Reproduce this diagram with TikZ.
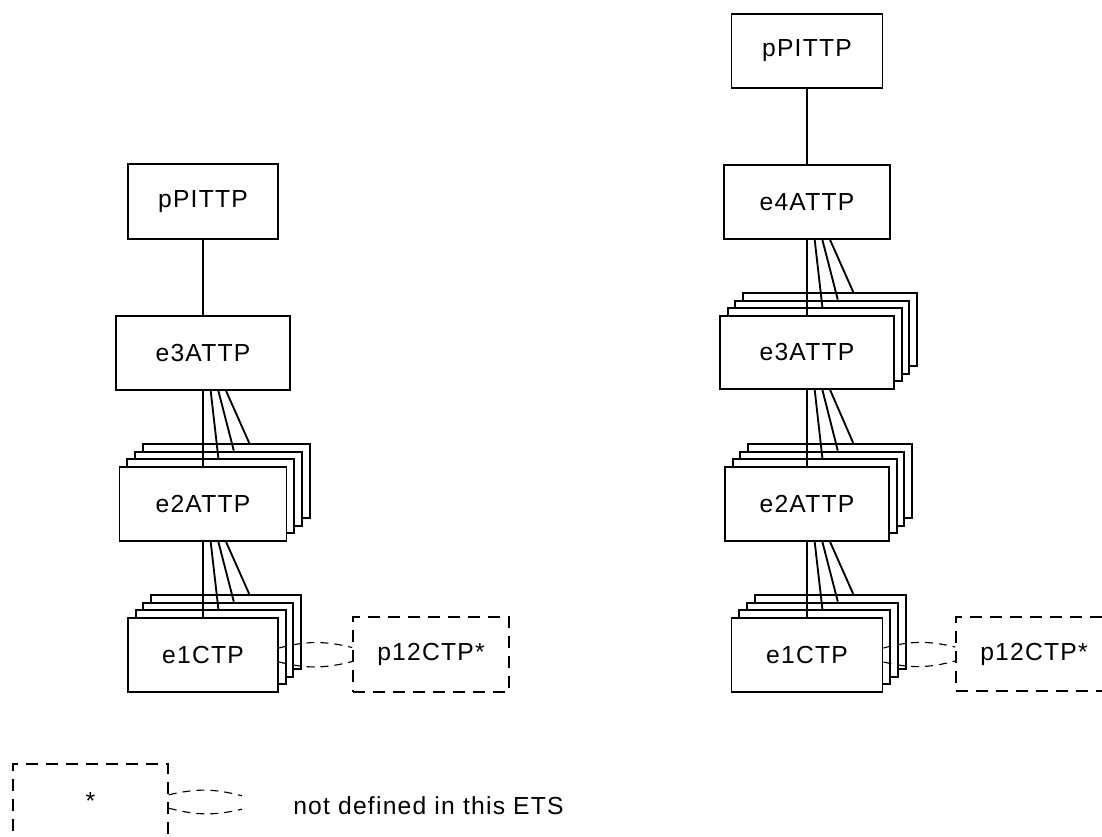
\documentclass[tikz,border=0pt]{standalone}
\usepackage{fontspec}
\setmainfont{Liberation Sans}[LetterSpace=5]
\usetikzlibrary{positioning,calc}
\newcommand{\lblfont}{\fontsize{18.5pt}{22pt}\selectfont}
\tikzset{
  bx/.style 2 args={draw, fill=white, line width=1.4pt, inner sep=0pt, font=\lblfont,
      minimum width=#1*0.75pt, minimum height=#2*0.75pt},
  dbx/.style 2 args={draw, line width=1.2pt, dash pattern=on 9pt off 6pt, inner sep=0pt,
      font=\lblfont, minimum width=#1*0.75pt, minimum height=#2*0.75pt},
  lnk/.style={line width=1.4pt},
  lens/.style={line width=0.85pt, dash pattern=on 6pt off 4.5pt},
  txt/.style={font=\lblfont, inner sep=0pt},
}

\begin{document}
\begin{tikzpicture}[x=0.75pt, y=-0.75pt]
  \useasboundingbox (0,0) rectangle (1102,837);
  % left column
  \node[bx={150}{75}] (lpit) at (203,201.5) {pPITTP};
  \node[bx={174}{74}] (le3) at (203,353) {e3ATTP};
  \foreach \k in {3,2,1}
    \node[bx={167}{74}] (le2-\k) at (203+7.7*\k,504-7.7*\k) {};
  \node[bx={167}{74}] (le2) at (203,504) {e2ATTP};
  \foreach \k in {3,2,1}
    \node[bx={150}{74}] (le1-\k) at (203+7.7*\k,655-7.7*\k) {};
  \node[bx={150}{74}] (le1) at (203,655) {e1CTP};
  \node[dbx={156}{75}] (lp12) at (431,654.5) {p12CTP*};
  \draw[lnk] (lpit) -- (le3);
  \draw[lnk] (le3.south) -- (le2.north);
  \draw[lnk] (le2.south) -- (le1.north);
  \foreach \k in {1,2,3} {
    \draw[lnk] ([xshift=\k*7.7*0.75pt]le3.south) -- ([xshift=\k*7.7*0.75pt]le2-\k.north);
    \draw[lnk] ([xshift=\k*7.7*0.75pt]le2.south) -- ([xshift=\k*7.7*0.75pt]le1-\k.north);
  }
  \draw[lens] ([yshift=5.25pt]le1.east) to[bend left=14] ([yshift=5.25pt]lp12.west);
  \draw[lens] ([yshift=-5.25pt]le1.east) to[bend right=14] ([yshift=-5.25pt]lp12.west);

  % right column
  \node[bx={151}{74}] (rpit) at (807,51) {pPITTP};
  \node[bx={166}{74}] (re4) at (807,202) {e4ATTP};
  \foreach \k in {3,2,1}
    \node[bx={174}{73}] (re3-\k) at (807+7.7*\k,352.5-7.7*\k) {};
  \node[bx={174}{73}] (re3) at (807,352.5) {e3ATTP};
  \foreach \k in {3,2,1}
    \node[bx={164}{74}] (re2-\k) at (807+7.7*\k,504-7.7*\k) {};
  \node[bx={164}{74}] (re2) at (807,504) {e2ATTP};
  \foreach \k in {3,2,1}
    \node[bx={151}{74}] (re1-\k) at (807+7.7*\k,655-7.7*\k) {};
  \node[bx={151}{74}] (re1) at (807,655) {e1CTP};
  \node[dbx={156}{74}] (rp12) at (1034,654) {p12CTP*};
  \draw[lnk] (rpit) -- (re4);
  \draw[lnk] (re4.south) -- (re3.north);
  \draw[lnk] (re3.south) -- (re2.north);
  \draw[lnk] (re2.south) -- (re1.north);
  \foreach \k in {1,2,3} {
    \draw[lnk] ([xshift=\k*7.7*0.75pt]re4.south) -- ([xshift=\k*7.7*0.75pt]re3-\k.north);
    \draw[lnk] ([xshift=\k*7.7*0.75pt]re3.south) -- ([xshift=\k*7.7*0.75pt]re2-\k.north);
    \draw[lnk] ([xshift=\k*7.7*0.75pt]re2.south) -- ([xshift=\k*7.7*0.75pt]re1-\k.north);
  }
  \draw[lens] ([yshift=5.25pt]re1.east) to[bend left=14] ([yshift=5.25pt]rp12.west);
  \draw[lens] ([yshift=-5.25pt]re1.east) to[bend right=14] ([yshift=-5.25pt]rp12.west);

  % legend
  \node[dbx={155}{75}] (key) at (90.5,801.5) {*};
  \coordinate (keyend) at (242,802.5);
  \draw[lens] ([yshift=5pt]key.east) to[bend left=14] ([yshift=5pt]keyend);
  \draw[lens] ([yshift=-5pt]key.east) to[bend right=14] ([yshift=-5pt]keyend);
  \node[txt, anchor=west] (keytxt) at (293,806) {not defined in this ETS};
\end{tikzpicture}
\end{document}
